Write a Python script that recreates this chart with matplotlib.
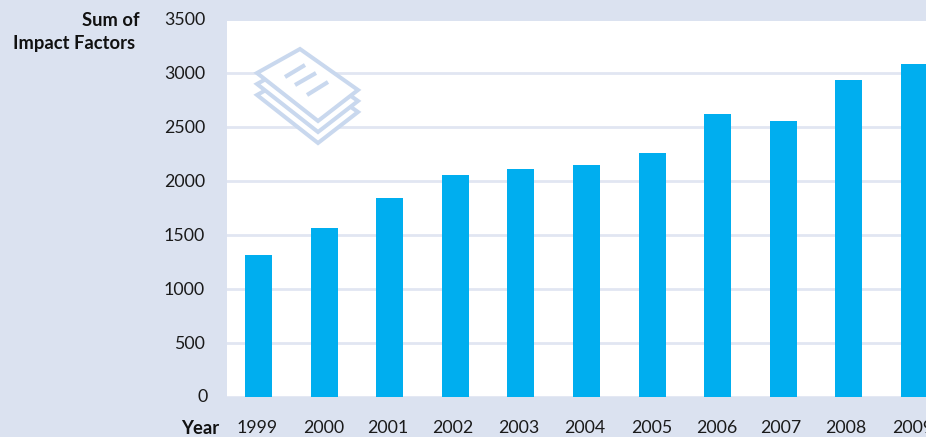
import matplotlib
matplotlib.use("Agg")
import matplotlib.pyplot as plt
from matplotlib.patches import Polygon
from matplotlib.lines import Line2D

years = [1999, 2000, 2001, 2002, 2003, 2004, 2005, 2006, 2007, 2008, 2009]
impact_sum = [1312, 1563, 1841, 2055, 2110, 2147, 2258, 2620, 2555, 2936, 3084]
y_ticks = [0, 500, 1000, 1500, 2000, 2500, 3000, 3500]
year_label_nudge = [-1, 0, -2, -3, -2, -2, 0, -1, -3, -3, -2]

W, H = 926, 437
BG = "#dbe2f0"
GRID = "#e1e6f2"
BAR = "#00aeef"
ICON = "#c9d8ee"
TXT = "#1a1a1a"
plt.rcParams["font.family"] = ["Lato", "DejaVu Sans"]

fig = plt.figure(figsize=(W / 100, H / 100), dpi=100, facecolor=BG)
left, right, top, bottom = 226.5, 926, 21, 396.5
ax = fig.add_axes([left / W, 1 - bottom / H, (right - left) / W, (bottom - top) / H])
ax.set_facecolor("white")
for s in ax.spines.values():
    s.set_visible(False)

ax.bar(years, impact_sum, width=0.41, color=BAR, zorder=3)
ax.set_xlim(1999 + (left - 258.5) / 65.6, 1999 + (right - 258.5) / 65.6)
ax.set_ylim(0, (bottom - top) / 0.1078)
ax.set_yticks(y_ticks[:-1])
ax.grid(axis="y", color=GRID, lw=2.0, zorder=1)
ax.set_axisbelow(True)
ax.tick_params(length=0, labelleft=False, labelbottom=False)

def px(x, y):
    return x / W, 1 - y / H

# y tick labels
for v in y_ticks:
    y = ax.transData.transform((0, v))[1]
    fig.text((205 if v else 208) / W, (y - 1) / H, str(v), ha="right", va="center",
             fontsize=12.8, color=TXT)

# x tick labels
for yr, dx in zip(years, year_label_nudge):
    x = ax.transData.transform((yr, 0))[0]
    fig.text((x + dx) / W, 1 - 428 / H, str(yr), ha="center", va="center",
             fontsize=12.8, color=TXT, clip_on=False)

# bold axis titles
bold = dict(ha="right", va="center", fontsize=13.2, fontweight="bold", color="#111111")
fig.text(*px(140, 20), "Sum of", **bold)
fig.text(*px(135, 43), "Impact Factors", **bold)
fig.text(*px(219, 428), "Year", **bold)

# decorative document-stack icon (figure pixel coordinates)
def sheet(dy, z):
    pts = [(300, 49 + dy), (358, 90 + dy), (318, 121 + dy), (257, 73 + dy)]
    fig.add_artist(Polygon([px(*p) for p in pts], closed=True, transform=fig.transFigure,
                           facecolor="white", edgecolor=ICON, lw=2.9, zorder=z, joinstyle="miter"))

for dy, z in [(22, 5), (11, 6), (0, 7)]:
    sheet(dy, z)
for a, b in [((285, 77), (305, 65)), ((295, 85), (316, 73)), ((307, 95), (328, 82))]:
    fig.add_artist(Line2D(*zip(px(*a), px(*b)), color=ICON, lw=3, transform=fig.transFigure,
                          zorder=8, solid_capstyle="butt"))

fig.savefig("out.png", dpi=100, facecolor=BG)
